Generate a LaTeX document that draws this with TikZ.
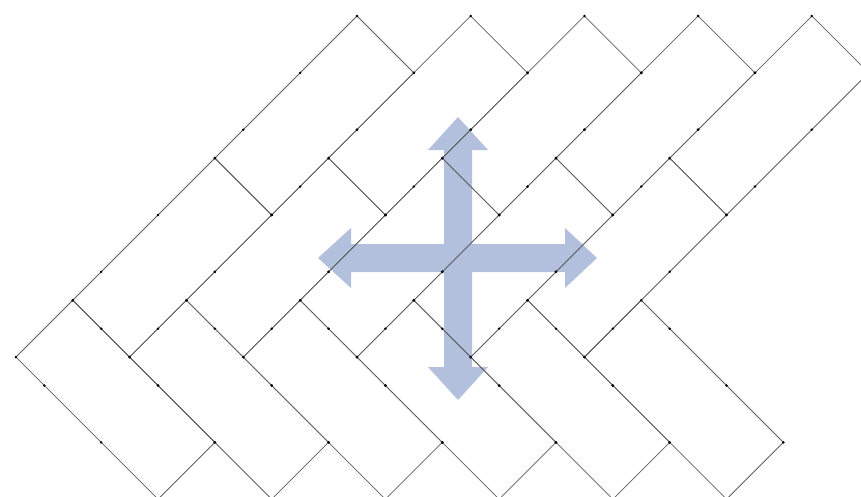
\documentclass[tikz,border=0pt]{standalone}
\usepackage{tikz}
\definecolor{arrowblue}{RGB}{178,192,222}
\definecolor{edgegray}{RGB}{95,95,95}
\tikzset{
  tileline/.style={draw=edgegray, line width=0.75pt, line join=miter},
  arrowshape/.style={fill=arrowblue, draw=none},
  dotmark/.style={fill=black}
}
\newcommand{\hbtile}[4]{\draw[tileline] (#1,#2) -- (#3,#2) -- (#3,#4) -- (#1,#4) -- cycle;}
\newcommand{\hbdot}[2]{\fill[dotmark] (#1,#2) circle (1.4pt);}
\begin{document}
\begin{tikzpicture}[x=1pt,y=-1pt]
\useasboundingbox (0,0) rectangle (861,496);
\clip (0,0) rectangle (861,496);
% four-way arrow (drawn below the tiles)
\path[arrowshape] (458,117) -- (488,150) -- (472,150) -- (472,244) -- (565,244) -- (565,228)
  -- (597,258) -- (565,288) -- (565,272) -- (472,272) -- (472,367) -- (488,367)
  -- (458,400) -- (428,367) -- (444,367) -- (444,272) -- (351,272) -- (351,288)
  -- (318,258) -- (351,228) -- (351,244) -- (444,244) -- (444,150) -- (428,150) -- cycle;
% herringbone tiles on a 45-degree lattice
\begin{scope}[shift={(357,16)}, x={(56.85pt,-56.85pt)}, y={(-56.85pt,-56.85pt)}]
  % vertical-running bricks (two per column)
  \foreach \k in {0,...,4}{
    \hbtile{\k}{-\k}{\k+1}{-\k+2.5}
    \hbtile{\k}{-\k+2.5}{\k+1}{-\k+5}
  }
  % horizontal-running bricks
  \foreach \m in {0,...,5}{
    \hbtile{5-\m}{\m}{7.5-\m}{\m+1}
  }
  % dots on vertical bricks
  \foreach \k in {0,...,4}{
    \foreach \a in {0,2.5}{
      \foreach \t in {0,1,2,2.5}{
        \hbdot{\k}{-\k+\a+\t}
        \hbdot{\k+1}{-\k+\a+\t}
      }
    }
  }
  % dots on horizontal bricks
  \foreach \m in {0,...,5}{
    \foreach \t in {0,0.5,1.5,2.5}{
      \hbdot{5-\m+\t}{\m}
      \hbdot{5-\m+\t}{\m+1}
    }
  }
\end{scope}
\end{tikzpicture}
\end{document}
